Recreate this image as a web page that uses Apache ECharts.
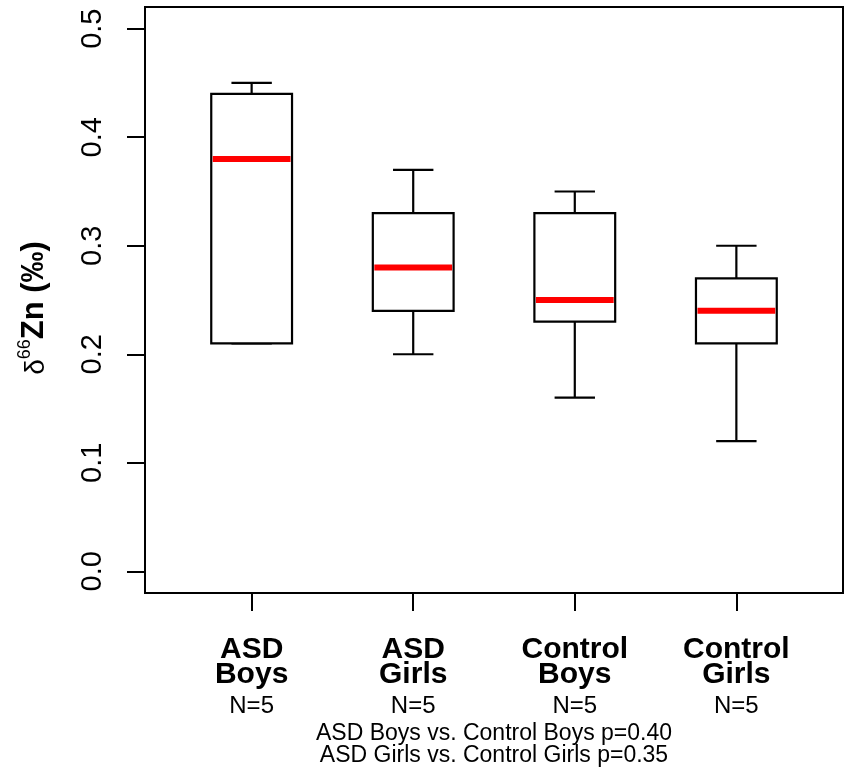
<!DOCTYPE html>
<html><head><meta charset="utf-8">
<script src="https://cdn.jsdelivr.net/npm/echarts@6/dist/echarts.min.js"></script>
<style>html,body{margin:0;padding:0;background:#fff}#c{width:851px;height:776px}</style>
</head><body><div id="c"></div>
<script>
// ---- data ----
const groupNames = ['ASD', 'ASD', 'Control', 'Control'];
const sexNames = ['Boys', 'Girls', 'Boys', 'Girls'];
const sampleSizes = [5, 5, 5, 5];
const mins    = [0.21, 0.20, 0.16, 0.12];
const q1s     = [0.21, 0.24, 0.23, 0.21];
const medians = [0.38, 0.28, 0.25, 0.24];
const q3s     = [0.44, 0.33, 0.33, 0.27];
const maxs    = [0.45, 0.37, 0.35, 0.30];
const yTicks = [0, 0.1, 0.2, 0.3, 0.4, 0.5];
const xTicks = [1, 2, 3, 4];
const footnotes = ['ASD Boys vs. Control Boys p=0.40', 'ASD Girls vs. Control Girls p=0.35'];

const FONT = '"Liberation Sans", Arial, Helvetica, sans-serif';
const BOXW = 0.5, CAPW = 0.25;

const boxData = groupNames.map((g, i) => [i + 1, mins[i], q1s[i], medians[i], q3s[i], maxs[i]]);

function renderItem(params, api) {
  const x = api.value(0);
  const lo = api.value(1), q1 = api.value(2), med = api.value(3), q3 = api.value(4), hi = api.value(5);
  const tl = api.coord([x - BOXW / 2, q3]);
  const br = api.coord([x + BOXW / 2, q1]);
  const pMedL = api.coord([x - BOXW / 2, med]);
  const pMedR = api.coord([x + BOXW / 2, med]);
  const pHi = api.coord([x, hi]);
  const pLo = api.coord([x, lo]);
  const capL = api.coord([x - CAPW / 2, hi])[0];
  const capR = api.coord([x + CAPW / 2, hi])[0];
  const ls = { stroke: '#000', lineWidth: 2.2 };
  return {
    type: 'group',
    children: [
      { type: 'line', shape: { x1: pHi[0], y1: pHi[1], x2: pHi[0], y2: tl[1] }, style: ls },
      { type: 'line', shape: { x1: pLo[0], y1: br[1], x2: pLo[0], y2: pLo[1] }, style: ls },
      { type: 'line', shape: { x1: capL, y1: pHi[1], x2: capR, y2: pHi[1] }, style: ls },
      { type: 'line', shape: { x1: capL, y1: pLo[1], x2: capR, y2: pLo[1] }, style: ls },
      { type: 'rect', shape: { x: tl[0], y: tl[1], width: br[0] - tl[0], height: br[1] - tl[1] },
        style: { fill: '#fff', stroke: '#000', lineWidth: 2.2 } },
      { type: 'line', shape: { x1: pMedL[0] + 1.5, y1: pMedL[1], x2: pMedR[0] - 1.5, y2: pMedR[1] },
        style: { stroke: '#ff0000', lineWidth: 6 } }
    ]
  };
}

const chart = echarts.init(document.getElementById('c'), null, { renderer: 'canvas' });
chart.setOption({
  backgroundColor: '#fff',
  animation: false,
  textStyle: { fontFamily: FONT },
  grid: { left: 145, top: 7, right: 8, bottom: 183, show: true, borderColor: '#000', borderWidth: 2, backgroundColor: 'transparent' },
  xAxis: {
    type: 'value', min: 0.34, max: 4.66,
    splitLine: { show: false },
    axisLine: { show: true, onZero: false, lineStyle: { color: '#000', width: 2 } },
    axisTick: { show: true, customValues: xTicks, length: 18, lineStyle: { color: '#000', width: 2 } },
    axisLabel: {
      customValues: xTicks, margin: 44, color: '#000', fontFamily: FONT,
      formatter: function (v) {
        const i = Math.round(v) - 1;
        return '{b|' + groupNames[i] + '}\n{b|' + sexNames[i] + '}\n{n|N=' + sampleSizes[i] + '}';
      },
      rich: {
        b: { fontSize: 30, fontWeight: 'bold', lineHeight: 25, color: '#000', fontFamily: FONT },
        n: { fontSize: 24, lineHeight: 39, color: '#000', fontFamily: FONT }
      }
    }
  },
  yAxis: {
    type: 'value', min: -0.02, max: 0.52,
    splitLine: { show: false },
    axisLine: { show: true, onZero: false, lineStyle: { color: '#000', width: 2 } },
    axisTick: { show: true, customValues: yTicks, length: 18, lineStyle: { color: '#000', width: 2 } },
    axisLabel: {
      customValues: yTicks, rotate: 90, margin: 38, fontSize: 29, color: '#000', fontFamily: FONT,
      formatter: v => v.toFixed(1)
    },
    name: '{d|δ}{s|66}{b|Zn (‰)}',
    nameLocation: 'middle', nameRotate: 90, nameGap: 95,
    nameTextStyle: {
      color: '#000', fontFamily: FONT, padding: [0, 16, 0, 0],
      rich: {
        d: { fontSize: 28, lineHeight: 34, verticalAlign: 'bottom', color: '#000', fontFamily: FONT },
        s: { fontSize: 18, lineHeight: 34, verticalAlign: 'top', color: '#000', fontFamily: FONT },
        b: { fontSize: 31, fontWeight: 'bold', lineHeight: 34, verticalAlign: 'bottom', color: '#000', fontFamily: FONT }
      }
    }
  },
  title: {
    text: footnotes.join('\n'),
    left: 494, top: 723, textAlign: 'center', padding: 0,
    textStyle: { fontSize: 23, fontWeight: 'normal', lineHeight: 22, color: '#000', fontFamily: FONT }
  },
  series: [{
    type: 'custom',
    renderItem: renderItem,
    data: boxData,
    encode: { x: 0, y: [1, 2, 3, 4, 5] },
    clip: false
  }]
});
</script>
</body></html>
